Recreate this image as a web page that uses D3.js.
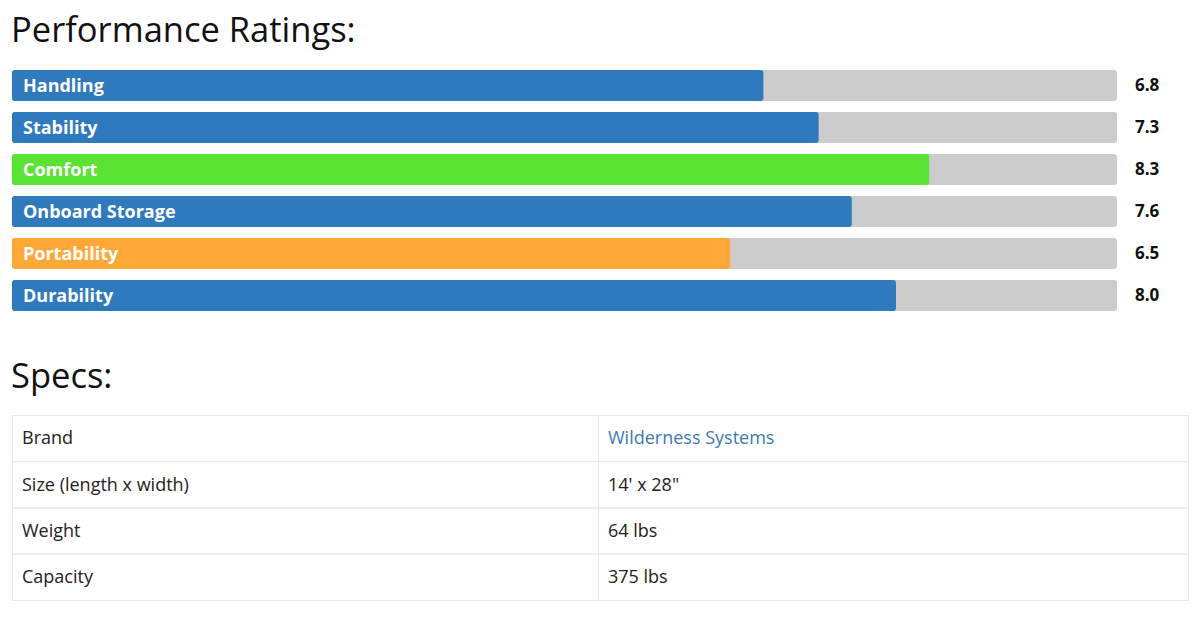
<!DOCTYPE html>
<html>
<head>
<meta charset="utf-8">
<script src="https://cdn.jsdelivr.net/npm/d3@7"></script>
<style>
	body { margin: 0; background: #fff; font-family: 'Open Sans', 'Noto Sans', sans-serif; }
	#graphic { width: 1200px; height: 626px; }
</style>
</head>
<body>
<div id="graphic"></div>
<script>
var categories = ['Handling', 'Stability', 'Comfort', 'Onboard Storage', 'Portability', 'Durability'];
var ratings = [6.8, 7.3, 8.3, 7.6, 6.5, 8.0];
var barColours = ['#2f7abd', '#2f7abd', '#5ae333', '#2f7abd', '#ffa737', '#2f7abd'];
var specNames = ['Brand', 'Size (length x width)', 'Weight', 'Capacity'];
var specValues = ['Wilderness Systems', '14\' x 28"', '64 lbs', '375 lbs'];

var graphic = d3.select('#graphic');

function drawGraphic() {
	graphic.selectAll('*').remove();

	var svg = graphic
		.append('svg')
		.attr('width', 1200)
		.attr('height', 626);

	// titles
	svg.append('text')
		.attr('x', 11)
		.attr('y', 42)
		.attr('font-size', 34.5)
		.attr('fill', '#111')
		.text('Performance Ratings:');

	svg.append('text')
		.attr('x', 11)
		.attr('y', 388)
		.attr('font-size', 34.5)
		.attr('fill', '#111')
		.text('Specs:');

	//set up scales
	var x = d3.scaleLinear().domain([0, 10]).range([12, 1117]);

	var y = d3.scaleBand()
		.domain(categories)
		.range([70, 311])
		.paddingInner(11 / 42)
		.paddingOuter(0);

	var data = categories.map((d, i) => ({ name: d, value: ratings[i], colour: barColours[i] }));

	var rows = svg.selectAll('g.rating')
		.data(data)
		.join('g')
		.attr('class', 'rating');

	// background track
	rows.append('rect')
		.attr('x', x(0))
		.attr('y', (d) => y(d.name))
		.attr('width', x(10) - x(0))
		.attr('height', y.bandwidth())
		.attr('rx', 3)
		.attr('fill', '#cccccc');

	// value bar
	rows.append('rect')
		.attr('x', x(0))
		.attr('y', (d) => y(d.name))
		.attr('width', (d) => x(d.value) - x(0))
		.attr('height', y.bandwidth())
		.attr('rx', 3)
		.attr('fill', (d) => d.colour);

	// label inside bar
	rows.append('text')
		.attr('x', x(0) + 11)
		.attr('y', (d) => y(d.name) + y.bandwidth() / 2)
		.attr('dy', '0.35em')
		.attr('font-size', 18)
		.attr('font-weight', 'bold')
		.attr('fill', '#fff')
		.text((d) => d.name);

	// value label
	rows.append('text')
		.attr('x', x(10) + 18)
		.attr('y', (d) => y(d.name) + y.bandwidth() / 2)
		.attr('dy', '0.35em')
		.attr('font-size', 17)
		.attr('font-weight', 'bold')
		.attr('fill', '#111')
		.text((d) => d3.format('.1f')(d.value));

	// specs table
	var tableLeft = 12, tableRight = 1188, colSplit = 598, tableTop = 415, rowH = 46.25;
	var specData = specNames.map((d, i) => ({ name: d, value: specValues[i] }));

	var table = svg.append('g').attr('class', 'specs');

	var trs = table.selectAll('g.row')
		.data(specData)
		.join('g')
		.attr('class', 'row')
		.attr('transform', (d, i) => 'translate(0,' + (tableTop + i * rowH) + ')');

	trs.append('rect')
		.attr('x', tableLeft + 0.5)
		.attr('y', 0.5)
		.attr('width', tableRight - tableLeft)
		.attr('height', rowH)
		.attr('fill', '#fff')
		.attr('stroke', '#e6e6e6');

	trs.append('line')
		.attr('x1', colSplit + 0.5)
		.attr('x2', colSplit + 0.5)
		.attr('y1', 0)
		.attr('y2', rowH)
		.attr('stroke', '#e6e6e6');

	trs.append('text')
		.attr('x', tableLeft + 10)
		.attr('y', rowH / 2)
		.attr('dy', '0.35em')
		.attr('font-size', 18)
		.attr('fill', '#222')
		.text((d) => d.name);

	trs.append('text')
		.attr('x', colSplit + 10)
		.attr('y', rowH / 2)
		.attr('dy', '0.35em')
		.attr('font-size', 18)
		.attr('fill', (d, i) => (i === 0 ? '#3a7ab2' : '#222'))
		.text((d) => d.value);
}

drawGraphic();
</script>
</body>
</html>
